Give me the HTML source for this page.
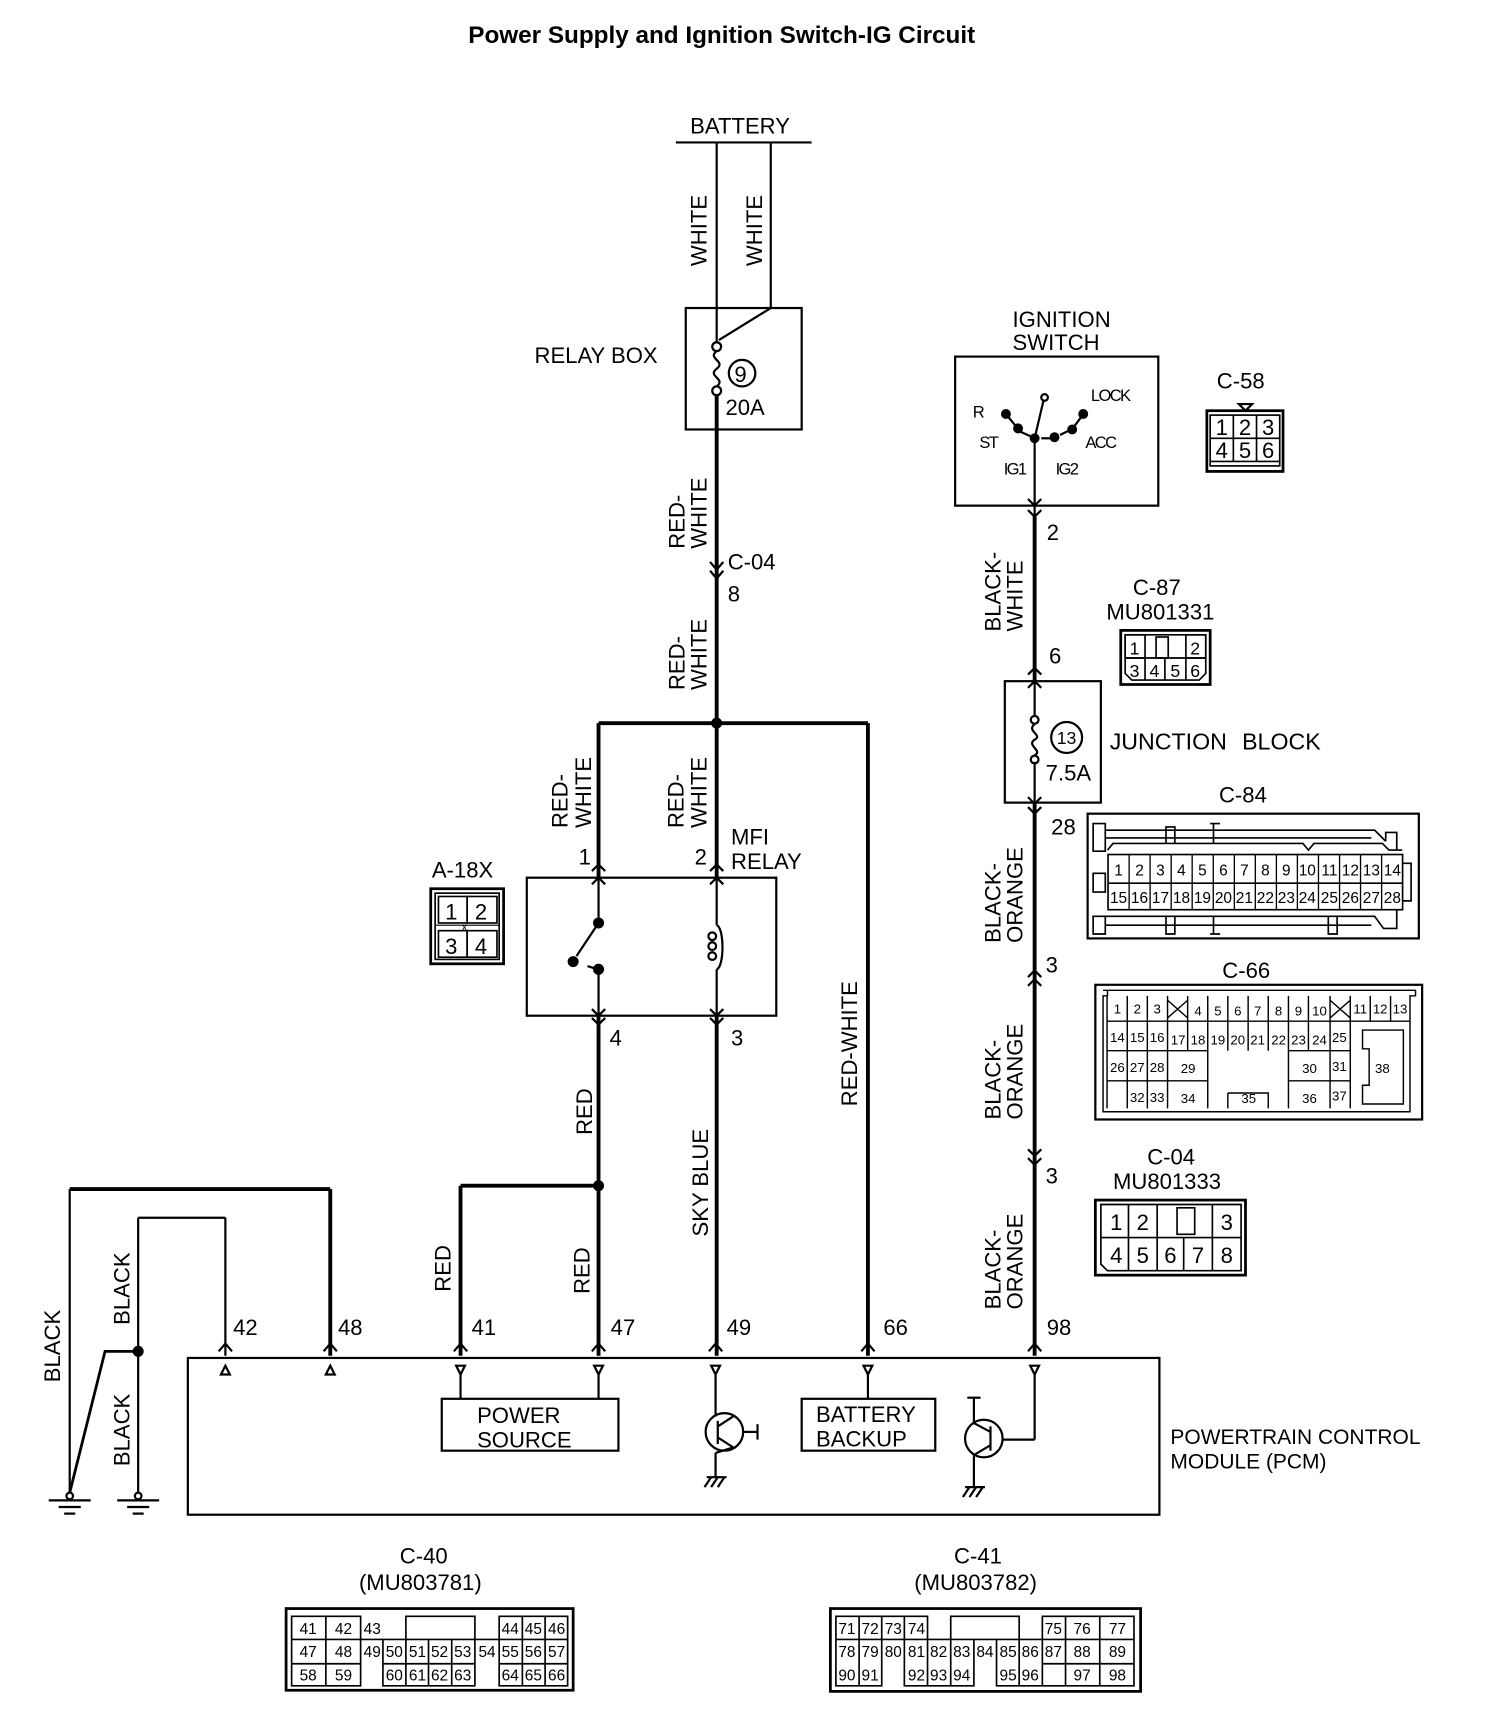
<!DOCTYPE html>
<html><head><meta charset="utf-8"><style>
html,body{margin:0;padding:0;background:#fff}
svg{display:block}
text{font-family:"Liberation Sans",Arial,sans-serif;fill:#000}
.t{font-size:20px}
.s{font-size:14px}
.m{font-size:16px}
</style></head><body>
<svg width="1504" height="1730" viewBox="0 0 1362 1567" xmlns="http://www.w3.org/2000/svg">
<g fill="none" stroke="#000" stroke-width="2">
<line x1="612" y1="129" x2="735" y2="129"/>
<line x1="649" y1="129" x2="649" y2="311"/>
<line x1="698" y1="129" x2="698" y2="279"/>
<line x1="698" y1="279" x2="651" y2="308"/>
<rect x="621" y="279" width="105" height="110"/>
<circle cx="649" cy="314" r="4"/>
<circle cx="649" cy="354" r="4"/>
<path d="M649 318 C640 325,658 327,649 334 C640 341,658 343,649 350"/>
<circle cx="672" cy="338" r="12"/>
<g stroke-width="3.5">
<line x1="649" y1="358" x2="649" y2="795"/>
<line x1="542" y1="655" x2="786" y2="655"/>
<line x1="542" y1="655" x2="542" y2="795"/>
<line x1="786" y1="655" x2="786" y2="1228"/>
<line x1="542" y1="920" x2="542" y2="1228"/>
<line x1="649" y1="920" x2="649" y2="1228"/>
<line x1="417" y1="1074" x2="542" y2="1074"/>
<line x1="417" y1="1074" x2="417" y2="1228"/>
<line x1="63" y1="1077" x2="299" y2="1077"/>
<line x1="299" y1="1077" x2="299" y2="1228"/>
<line x1="937" y1="467" x2="937" y2="617"/>
<line x1="937" y1="727" x2="937" y2="1228"/>
</g>
<line x1="125" y1="1103" x2="204" y2="1103"/>
<line x1="204" y1="1103" x2="204" y2="1228"/>
<line x1="63" y1="1077" x2="63" y2="1352"/>
<line x1="125" y1="1103" x2="125" y2="1352"/>
<path d="M125 1224 L95 1224 L63 1352" stroke-width="2.5"/>
<circle cx="63" cy="1355" r="3"/><circle cx="125" cy="1355" r="3"/>
<line x1="44" y1="1359" x2="82" y2="1359"/><line x1="53" y1="1365" x2="73" y2="1365"/><line x1="58" y1="1371" x2="68" y2="1371"/>
<line x1="106" y1="1359" x2="144" y2="1359"/><line x1="115" y1="1365" x2="135" y2="1365"/><line x1="120" y1="1371" x2="130" y2="1371"/>
<path d="M643 509 L649 516 L655 509 M643 517 L649 524 L655 517"/>
<rect x="477" y="795" width="226" height="125"/>
<line x1="542" y1="795" x2="542" y2="836"/>
<line x1="542" y1="878" x2="542" y2="920"/>
<circle cx="542" cy="836" r="4" fill="#000"/>
<circle cx="519" cy="871" r="4" fill="#000"/>
<circle cx="542" cy="878" r="4" fill="#000"/>
<line x1="542" y1="836" x2="522" y2="866"/>
<line x1="532" y1="875" x2="538" y2="877"/>
<line x1="649" y1="795" x2="649" y2="838"/>
<line x1="649" y1="878" x2="649" y2="920"/>
<path d="M649 838 C656 840,656 876,649 878"/>
<circle cx="645" cy="848" r="3.5"/><circle cx="645" cy="857" r="3.5"/><circle cx="645" cy="866" r="3.5"/>
<path d="M536 789 L542 783 L548 789 M536 801 L542 795 L548 801 M643 789 L649 783 L655 789 M643 801 L649 795 L655 801"/>
<path d="M536 914 L542 920 L548 914 M536 922 L542 928 L548 922 M643 914 L649 920 L655 914 M643 922 L649 928 L655 922"/>
<rect x="390" y="805" width="66" height="68" stroke-width="2.5"/>
<rect x="394" y="809" width="58" height="60" stroke-width="1.5"/>
<rect x="397" y="812" width="26" height="24" stroke-width="1.5"/><rect x="423" y="812" width="27" height="24" stroke-width="1.5"/>
<rect x="397" y="843" width="26" height="24" stroke-width="1.5"/><rect x="423" y="843" width="27" height="24" stroke-width="1.5"/>
<line x1="394" y1="838" x2="452" y2="838" stroke-width="1"/>
<rect x="865" y="323" width="184" height="135"/>
<line x1="937" y1="397" x2="937" y2="467"/>
<line x1="937" y1="397" x2="945" y2="363"/>
<circle cx="946" cy="360" r="3"/>
<circle cx="937" cy="397" r="3.5" fill="#000"/>
<circle cx="911" cy="375" r="3.5" fill="#000"/><circle cx="922" cy="388" r="3.5" fill="#000"/>
<circle cx="955" cy="396" r="3.5" fill="#000"/><circle cx="971" cy="389" r="3.5" fill="#000"/><circle cx="981" cy="375" r="3.5" fill="#000"/>
<line x1="911" y1="375" x2="920" y2="386"/><line x1="924" y1="391" x2="933" y2="395"/>
<line x1="943" y1="397" x2="951" y2="397"/><line x1="960" y1="394" x2="968" y2="390"/><line x1="973" y1="386" x2="979" y2="378"/>
<path d="M931 452 L937 458 L943 452 M931 462 L937 468 L943 462"/>
<path d="M1122 366 L1134 366 L1128 372 Z"/>
<rect x="1093" y="372" width="69" height="55" stroke-width="2.5"/>
<rect x="1096" y="376" width="63" height="46" stroke-width="1.5"/>
<line x1="1096" y1="397" x2="1159" y2="397" stroke-width="1.5"/>
<line x1="1117" y1="376" x2="1117" y2="418" stroke-width="1.5"/><line x1="1138" y1="376" x2="1138" y2="418" stroke-width="1.5"/>
<line x1="1096" y1="418" x2="1159" y2="418" stroke-width="1.5"/>
<rect x="1015" y="571" width="81" height="49" stroke-width="2.5"/>
<path d="M1019 575 L1092 575 L1092 610 L1086 616 L1025 616 L1019 610 Z" stroke-width="1.5"/>
<rect x="1019" y="575" width="18" height="21" stroke-width="1.5"/><rect x="1047" y="577" width="11" height="19" stroke-width="1.5"/><rect x="1074" y="575" width="18" height="21" stroke-width="1.5"/>
<line x1="1019" y1="596" x2="1092" y2="596" stroke-width="1.5"/>
<line x1="1037" y1="596" x2="1037" y2="616" stroke-width="1.5"/><line x1="1055" y1="596" x2="1055" y2="616" stroke-width="1.5"/><line x1="1074" y1="596" x2="1074" y2="616" stroke-width="1.5"/>
<rect x="910" y="617" width="87" height="110"/>
<line x1="937" y1="617" x2="937" y2="649"/>
<line x1="937" y1="690" x2="937" y2="727"/>
<circle cx="937" cy="652" r="3.5"/><circle cx="937" cy="688" r="3.5"/>
<path d="M937 656 C929 662,945 666,937 670 C929 675,945 680,937 684"/>
<circle cx="966" cy="668" r="14"/>
<path d="M931 611 L937 605 L943 611 M931 623 L937 617 L943 623"/>
<path d="M931 722 L937 728 L943 722 M931 731 L937 737 L943 731"/>
<path d="M931 885 L937 879 L943 885 M931 893 L937 887 L943 893"/>
<path d="M931 1041 L937 1047 L943 1041 M931 1049 L937 1055 L943 1049"/>
<rect x="985" y="737" width="300" height="113"/>
<rect x="1003.5" y="774" width="266.8" height="50" stroke-width="1.5"/>
<line x1="1003.5" y1="800" x2="1270.3" y2="800" stroke-width="1.5"/>
<path stroke-width="1.2" d="M1022.6 774V824M1041.6 774V824M1060.7 774V824M1079.7 774V824M1098.8 774V824M1117.9 774V824M1136.9 774V824M1156 774V824M1175 774V824M1194.1 774V824M1213.2 774V824M1232.2 774V824M1251.3 774V824"/>
<path stroke-width="1.5" d="M990 746H1001V771H990ZM990 808H1001V791H990ZM990 830H1001V846H990ZM1001 752H1245L1255 762M1001 759H1242M1003 770L1008 764H1180L1185 770L1190 764H1252L1258 770H1270M1255 762V754H1265V770M1001 830H1245L1253 841H1265V824M1001 838H1242M1099 746V764M1099 830V846M1096 746H1105M1096 846H1105M1056 749H1064V764H1056ZM1056 830H1064V846H1056ZM1203 830H1211V846H1203ZM1270 782H1278V816H1270"/>
<rect x="992" y="892" width="296" height="122"/>
<path stroke-width="1.3" d="M999 897H1282V902H1277V1007H999V902H1003V897M1002.6 902V1004M1020.9 902V1004M1039.1 902V1004M1057.4 902V1004M1075.6 902V925M1093.8 902V925M1112 902V925M1130.4 902V925M1148.6 902V925M1166.9 902V925M1185 902V925M1204.6 902V1004M1222.9 902V1004M1241 902V925M1259.4 902V925M1002.6 925H1277M1002.6 951.7H1057.4M1057.4 951.7H1093.8M1166.9 951.7H1222.9M1002.6 979H1093.8M1166.9 979H1222.9M1075.6 925V951.7M1093.8 925V1004M1112 925V951.7M1130.4 925V951.7M1148.6 925V951.7M1166.9 925V1004M1185 925V951.7M1112 990H1148.6V1004M1112 990V1004M1057.4 906L1075.6 922M1075.6 906L1057.4 922M1204.6 906L1222.9 922M1222.9 906L1204.6 922M1234 933H1271V1000H1234V983H1240V950H1234Z"/>
<rect x="992" y="1087" width="136" height="68" stroke-width="2.5"/>
<path stroke-width="1.5" d="M997 1091H1124V1151H1003L997 1145Z"/>
<path stroke-width="1.5" d="M997 1121H1124M1022 1091V1151M1048 1091V1121M1048 1121V1151M1072 1121V1151M1098 1091V1151M1066 1094H1082V1118H1066Z"/>
<rect x="170" y="1230" width="880" height="142"/>
<path d="M198 1224 L204 1217 L210 1224 M293 1224 L299 1217 L305 1224 M411 1224 L417 1217 L423 1224 M536 1224 L542 1217 L548 1224 M642 1224 L648 1217 L654 1224 M780 1224 L786 1217 L792 1224 M931 1224 L937 1217 L943 1224"/>
<path d="M200 1245 L204 1237 L208 1245 Z M295 1245 L299 1237 L303 1245 Z M413 1237 L421 1237 L417 1245 Z M538 1237 L546 1237 L542 1245 Z M644 1237 L652 1237 L648 1245 Z M782 1237 L790 1237 L786 1245 Z M933 1237 L941 1237 L937 1245 Z"/>
<line x1="417" y1="1245" x2="417" y2="1267"/><line x1="542" y1="1245" x2="542" y2="1267"/>
<rect x="400" y="1267" width="160" height="47"/>
<line x1="786" y1="1245" x2="786" y2="1267"/>
<rect x="726" y="1267" width="121" height="47"/>
<line x1="648" y1="1245" x2="648" y2="1283"/>
<circle cx="656" cy="1297" r="17"/>
<line x1="650" y1="1287" x2="650" y2="1308"/>
<line x1="650" y1="1292" x2="664" y2="1283"/><line x1="650" y1="1302" x2="664" y2="1311"/>
<line x1="664" y1="1311" x2="648" y2="1316"/><line x1="648" y1="1316" x2="648" y2="1338"/>
<line x1="673" y1="1297" x2="686" y2="1297"/><line x1="686" y1="1290" x2="686" y2="1304"/>
<line x1="640" y1="1338" x2="658" y2="1338"/><path d="M644 1338 L638 1347 M650 1338 L644 1347 M656 1338 L650 1347"/>
<line x1="937" y1="1245" x2="937" y2="1304"/><line x1="937" y1="1304" x2="908" y2="1304"/>
<circle cx="891" cy="1303" r="17"/>
<line x1="897" y1="1292" x2="897" y2="1314"/>
<line x1="882" y1="1266" x2="882" y2="1290"/><line x1="876" y1="1266" x2="888" y2="1266"/>
<line x1="897" y1="1297" x2="882" y2="1289"/><line x1="897" y1="1309" x2="882" y2="1318"/>
<line x1="882" y1="1318" x2="882" y2="1347"/>
<line x1="874" y1="1347" x2="892" y2="1347"/><path d="M878 1347 L872 1356 M884 1347 L878 1356 M890 1347 L884 1356"/>
<rect x="259" y="1457" width="260" height="74" stroke-width="2.5"/>
<path stroke-width="1.5" d="M264 1464H326.5V1527H264ZM326.5 1485H514M326.5 1464V1485M295 1464V1527M264 1485H326.5M264 1507H326.5M367.5 1464H430V1485H367.5ZM346.7 1485V1527H430V1485M367.5 1485V1527M388 1485V1527M409 1485V1527M346.7 1507H430M452 1464H514V1527H452ZM473 1464V1527M493.6 1464V1527M452 1485H514M452 1507H514M326.5 1485V1507M430 1485V1507"/>
<rect x="752" y="1457" width="281" height="75" stroke-width="2.5"/>
<path stroke-width="1.5" d="M757 1464H840V1485H757ZM778 1464V1485M798.5 1464V1485M819 1464V1485M861 1464H923V1485H861ZM944 1464H1027V1527H944ZM965 1464V1527M996 1464V1527M757 1485H1027M757 1485V1527H798.5V1485M778 1485V1527M819 1485V1527H882V1485M840 1485V1527M861 1485V1527M882 1485V1507M902.5 1485V1527H944M923 1485V1527M902.5 1507V1527M944 1507H1027"/>
</g>
<g fill="#000">
<circle cx="649" cy="655" r="5"/><circle cx="542" cy="1074" r="5"/><circle cx="125" cy="1224" r="5"/>
</g>
<text x="424" y="39" style="font-size:22px;font-weight:bold">Power Supply and Ignition Switch-IG Circuit</text>
<text class="t" x="625" y="121">BATTERY</text>
<text class="t" x="484" y="329">RELAY BOX</text>
<text class="t" x="665" y="346">9</text>
<text class="t" x="657" y="376">20A</text>
<g class="t">
<text class="t" transform="translate(640,241) rotate(-90)">WHITE</text>
<text class="t" transform="translate(690,241) rotate(-90)">WHITE</text>
<text class="t" transform="translate(620,497) rotate(-90)">RED-</text>
<text class="t" transform="translate(640,497) rotate(-90)">WHITE</text>
<text class="t" transform="translate(620,625) rotate(-90)">RED-</text>
<text class="t" transform="translate(640,625) rotate(-90)">WHITE</text>
<text class="t" transform="translate(514,750) rotate(-90)">RED-</text>
<text class="t" transform="translate(535,750) rotate(-90)">WHITE</text>
<text class="t" transform="translate(619,750) rotate(-90)">RED-</text>
<text class="t" transform="translate(640,750) rotate(-90)">WHITE</text>
<text class="t" transform="translate(536,1028) rotate(-90)">RED</text>
<text class="t" transform="translate(641,1120) rotate(-90)">SKY BLUE</text>
<text class="t" transform="translate(776,1002) rotate(-90)">RED-WHITE</text>
<text class="t" transform="translate(408,1170) rotate(-90)">RED</text>
<text class="t" transform="translate(534,1172) rotate(-90)">RED</text>
<text class="t" transform="translate(54,1252) rotate(-90)">BLACK</text>
<text class="t" transform="translate(117,1200) rotate(-90)">BLACK</text>
<text class="t" transform="translate(117,1328) rotate(-90)">BLACK</text>
<text class="t" transform="translate(906,572) rotate(-90)">BLACK-</text>
<text class="t" transform="translate(926,572) rotate(-90)">WHITE</text>
<text class="t" transform="translate(906,854) rotate(-90)">BLACK-</text>
<text class="t" transform="translate(926,854) rotate(-90)">ORANGE</text>
<text class="t" transform="translate(906,1014) rotate(-90)">BLACK-</text>
<text class="t" transform="translate(926,1014) rotate(-90)">ORANGE</text>
<text class="t" transform="translate(906,1186) rotate(-90)">BLACK-</text>
<text class="t" transform="translate(926,1186) rotate(-90)">ORANGE</text>
</g>
<text class="t" x="659" y="516">C-04</text>
<text class="t" x="659" y="545">8</text>
<text class="t" x="524" y="783">1</text>
<text class="t" x="629" y="783">2</text>
<text class="t" x="662" y="765">MFI</text>
<text class="t" x="662" y="787">RELAY</text>
<text class="t" x="552" y="947">4</text>
<text class="t" x="662" y="947">3</text>
<text class="t" x="391" y="795">A-18X</text>
<text class="t" x="403" y="833">1</text><text class="t" x="430" y="833">2</text>
<text class="t" x="403" y="864">3</text><text class="t" x="430" y="864">4</text>
<text x="418" y="843" style="font-size:10px">x</text>
<text class="t" x="917" y="296">IGNITION</text>
<text class="t" x="917" y="317">SWITCH</text>
<text x="881" y="378" style="font-size:15px">R</text>
<text x="887" y="406" style="font-size:15px;letter-spacing:-1.5px">ST</text>
<text x="988" y="363" style="font-size:15px;letter-spacing:-1.5px">LOCK</text>
<text x="983" y="406" style="font-size:15px;letter-spacing:-1.5px">ACC</text>
<text x="909" y="430" style="font-size:15px;letter-spacing:-1.5px">IG1</text>
<text x="956" y="430" style="font-size:15px;letter-spacing:-1.5px">IG2</text>
<text class="t" x="948" y="489">2</text>
<text class="t" x="1102" y="352">C-58</text>
<text class="t" x="1101" y="394">1</text><text class="t" x="1122" y="394">2</text><text class="t" x="1143" y="394">3</text>
<text class="t" x="1101" y="415">4</text><text class="t" x="1122" y="415">5</text><text class="t" x="1143" y="415">6</text>
<text class="t" x="1026" y="539">C-87</text>
<text class="t" x="1002" y="561">MU801331</text>
<text class="m" x="1023" y="593">1</text><text class="m" x="1078" y="593">2</text>
<text class="m" x="1023" y="613">3</text><text class="m" x="1041" y="613">4</text><text class="m" x="1060" y="613">5</text><text class="m" x="1078" y="613">6</text>
<text class="t" x="950" y="601">6</text>
<text class="m" x="957" y="674">13</text>
<text class="t" x="947" y="707">7.5A</text>
<text x="1005" y="679" style="font-size:21px;word-spacing:8px">JUNCTION BLOCK</text>
<text class="t" x="952" y="756">28</text>
<text class="t" x="1104" y="727">C-84</text>
<g class="s" text-anchor="middle">
<text x="1013" y="793">1</text><text x="1032" y="793">2</text><text x="1051" y="793">3</text><text x="1070" y="793">4</text><text x="1089" y="793">5</text><text x="1108" y="793">6</text><text x="1127" y="793">7</text><text x="1146" y="793">8</text><text x="1165" y="793">9</text><text x="1184" y="793">10</text><text x="1204" y="793">11</text><text x="1223" y="793">12</text><text x="1242" y="793">13</text><text x="1261" y="793">14</text>
<text x="1013" y="818">15</text><text x="1032" y="818">16</text><text x="1051" y="818">17</text><text x="1070" y="818">18</text><text x="1089" y="818">19</text><text x="1108" y="818">20</text><text x="1127" y="818">21</text><text x="1146" y="818">22</text><text x="1165" y="818">23</text><text x="1184" y="818">24</text><text x="1204" y="818">25</text><text x="1223" y="818">26</text><text x="1242" y="818">27</text><text x="1261" y="818">28</text>
</g>
<text class="t" x="947" y="881">3</text>
<text class="t" x="1107" y="886">C-66</text>
<g style="font-size:12px" text-anchor="middle">
<text x="1012" y="918">1</text><text x="1030" y="918">2</text><text x="1048" y="918">3</text>
<text x="1085" y="920">4</text><text x="1103" y="920">5</text><text x="1121" y="920">6</text><text x="1139" y="920">7</text><text x="1158" y="920">8</text><text x="1176" y="920">9</text><text x="1195" y="920">10</text>
<text x="1232" y="918">11</text><text x="1250" y="918">12</text><text x="1268" y="918">13</text>
<text x="1012" y="944">14</text><text x="1030" y="944">15</text><text x="1048" y="944">16</text>
<text x="1067" y="946">17</text><text x="1085" y="946">18</text><text x="1103" y="946">19</text><text x="1121" y="946">20</text><text x="1139" y="946">21</text><text x="1158" y="946">22</text><text x="1176" y="946">23</text><text x="1195" y="946">24</text><text x="1213" y="944">25</text>
<text x="1012" y="971">26</text><text x="1030" y="971">27</text><text x="1048" y="971">28</text><text x="1076" y="972">29</text><text x="1186" y="972">30</text><text x="1213" y="970">31</text>
<text x="1030" y="998">32</text><text x="1048" y="998">33</text><text x="1076" y="999">34</text><text x="1131" y="999">35</text><text x="1186" y="999">36</text><text x="1213" y="997">37</text>
<text x="1252" y="972">38</text>
</g>
<text class="t" x="947" y="1072">3</text>
<text class="t" x="1039" y="1055">C-04</text>
<text class="t" x="1008" y="1077">MU801333</text>
<g class="t" text-anchor="middle">
<text x="1011" y="1114">1</text><text x="1035" y="1114">2</text><text x="1111" y="1114">3</text>
<text x="1011" y="1144">4</text><text x="1035" y="1144">5</text><text x="1060" y="1144">6</text><text x="1085" y="1144">7</text><text x="1111" y="1144">8</text>
</g>
<text class="t" x="211" y="1209">42</text><text class="t" x="306" y="1209">48</text><text class="t" x="427" y="1209">41</text><text class="t" x="553" y="1209">47</text><text class="t" x="658" y="1209">49</text><text class="t" x="800" y="1209">66</text><text class="t" x="948" y="1209">98</text>
<text class="t" x="432" y="1289">POWER</text>
<text class="t" x="432" y="1311">SOURCE</text>
<text class="t" x="739" y="1288">BATTERY</text>
<text class="t" x="739" y="1310">BACKUP</text>
<text class="t" x="1060" y="1308" style="font-size:19px">POWERTRAIN CONTROL</text>
<text class="t" x="1060" y="1330" style="font-size:19px">MODULE (PCM)</text>
<text class="t" x="362" y="1416">C-40</text>
<text class="t" x="325" y="1440">(MU803781)</text>
<text class="t" x="864" y="1416">C-41</text>
<text class="t" x="828" y="1440">(MU803782)</text>
<g class="s" text-anchor="middle">
<text x="279" y="1480">41</text><text x="311" y="1480">42</text><text x="337" y="1480">43</text><text x="462" y="1480">44</text><text x="483" y="1480">45</text><text x="504" y="1480">46</text>
<text x="279" y="1501">47</text><text x="311" y="1501">48</text><text x="337" y="1501">49</text><text x="357" y="1501">50</text><text x="378" y="1501">51</text><text x="398" y="1501">52</text><text x="419" y="1501">53</text><text x="441" y="1501">54</text><text x="462" y="1501">55</text><text x="483" y="1501">56</text><text x="504" y="1501">57</text>
<text x="279" y="1522">58</text><text x="311" y="1522">59</text><text x="357" y="1522">60</text><text x="378" y="1522">61</text><text x="398" y="1522">62</text><text x="419" y="1522">63</text><text x="462" y="1522">64</text><text x="483" y="1522">65</text><text x="504" y="1522">66</text>
<text x="767" y="1480">71</text><text x="788" y="1480">72</text><text x="809" y="1480">73</text><text x="830" y="1480">74</text><text x="954" y="1480">75</text><text x="980" y="1480">76</text><text x="1012" y="1480">77</text>
<text x="767" y="1501">78</text><text x="788" y="1501">79</text><text x="809" y="1501">80</text><text x="830" y="1501">81</text><text x="850" y="1501">82</text><text x="871" y="1501">83</text><text x="892" y="1501">84</text><text x="913" y="1501">85</text><text x="933" y="1501">86</text><text x="954" y="1501">87</text><text x="980" y="1501">88</text><text x="1012" y="1501">89</text>
<text x="767" y="1522">90</text><text x="788" y="1522">91</text><text x="830" y="1522">92</text><text x="850" y="1522">93</text><text x="871" y="1522">94</text><text x="913" y="1522">95</text><text x="933" y="1522">96</text><text x="980" y="1522">97</text><text x="1012" y="1522">98</text>
</g>
</svg>
</body></html>
